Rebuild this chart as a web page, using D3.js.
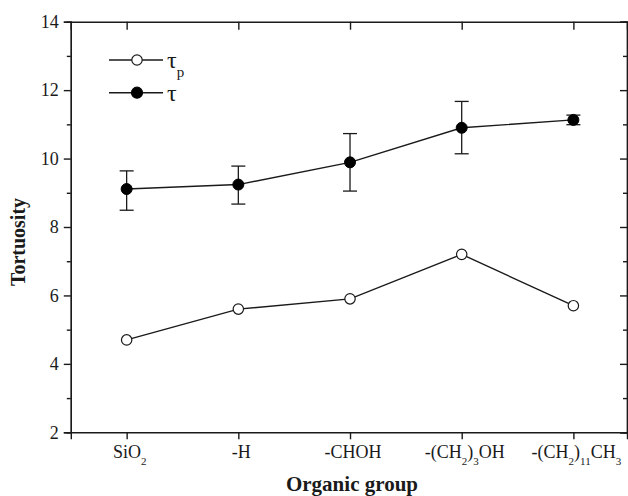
<!DOCTYPE html>
<html>
<head>
<meta charset="utf-8">
<script src="https://cdn.jsdelivr.net/npm/d3@7/dist/d3.min.js"></script>
<style>
  html, body { margin: 0; padding: 0; background: #fff; }
  svg { display: block; }
  svg text { font-family: "Liberation Serif", "Times New Roman", serif !important; fill: #1a1a1a; }
</style>
</head>
<body>
<svg id="chart" width="628" height="496"></svg>
<script>
// ---- data ----
const categories = ["SiO_{2}", "-H", "-CHOH", "-(CH_{2})_{3}OH", "-(CH_{2})_{11}CH_{3}"];
const tauP = [4.7, 5.6, 5.9, 7.2, 5.7];
const tau = [9.11, 9.24, 9.89, 10.9, 11.13];
const tauErrLow = [8.49, 8.67, 9.05, 10.14, 10.99];
const tauErrHigh = [9.64, 9.78, 10.73, 11.67, 11.27];
const yTicks = [2, 4, 6, 8, 10, 12, 14];
const yMinorTicks = [3, 5, 7, 9, 11, 13];
const legendSeries = [
  {name: "τ", sub: "p", filled: false},
  {name: "τ", sub: "", filled: true}
];

const svg = d3.select("#chart");
const ink = "#1a1a1a";
const serif = "'Liberation Serif', 'Times New Roman', serif";

const x = d3.scaleLinear().domain([0.5, 5.48]).range([70.8, 627]);
const y = d3.scaleLinear().domain([2, 14]).range([432.3, 21.7]);
const idx = categories.map((_, i) => i + 1);

// parse "_{..}" subscripts into segments
function segs(s) {
  const out = [];
  const re = /_\{([^}]*)\}/g;
  let last = 0, m;
  while ((m = re.exec(s)) !== null) {
    if (m.index > last) out.push({t: s.slice(last, m.index), sub: false});
    out.push({t: m[1], sub: true});
    last = re.lastIndex;
  }
  if (last < s.length) out.push({t: s.slice(last), sub: false});
  return out;
}

// ---- axes ----
const axisStroke = 1.4;
const gLeft = svg.append("g").attr("transform", `translate(${x.range()[0]},0)`)
  .call(d3.axisLeft(y).tickValues(yTicks).tickSize(7).tickPadding(5).tickFormat(d3.format("d")));
const gLeftMinor = svg.append("g").attr("transform", `translate(${x.range()[0]},0)`)
  .call(d3.axisLeft(y).tickValues(yMinorTicks).tickSize(4).tickFormat(""));
const gRight = svg.append("g").attr("transform", `translate(${x.range()[1]},0)`)
  .call(d3.axisLeft(y).tickValues(yTicks).tickSize(7).tickFormat(""));
const gRightMinor = svg.append("g").attr("transform", `translate(${x.range()[1]},0)`)
  .call(d3.axisLeft(y).tickValues(yMinorTicks).tickSize(4).tickFormat(""));
const gBottom = svg.append("g").attr("transform", `translate(0,${y.range()[0]})`)
  .call(d3.axisBottom(x).tickValues(idx).tickSize(7).tickFormat(""));
const gTop = svg.append("g").attr("transform", `translate(0,${y.range()[1]})`)
  .call(d3.axisBottom(x).tickValues(idx).tickSize(8).tickFormat(""));

[gLeft, gLeftMinor, gRight, gRightMinor, gBottom, gTop].forEach(g => {
  g.attr("font-family", serif);
  g.selectAll("path.domain").attr("stroke", ink).attr("stroke-width", axisStroke);
  g.selectAll(".tick line").attr("stroke", ink).attr("stroke-width", axisStroke);
});
gLeft.selectAll(".tick text")
  .style("font-family", serif).style("font-size", "18px").attr("fill", ink);

// x tick labels with subscripts
const xl = svg.append("g");
categories.forEach((c, i) => {
  const t = xl.append("text")
    .attr("x", x(i + 1) + 3)
    .attr("y", 458)
    .attr("text-anchor", "middle")
    .style("font-family", serif)
    .style("font-size", "18px");
  let shifted = false;
  segs(c).forEach(s => {
    const ts = t.append("tspan").text(s.t);
    if (s.sub) ts.style("font-size", "11px");
    if (s.sub && !shifted) { ts.attr("dy", 7); shifted = true; }
    else if (!s.sub && shifted) { ts.attr("dy", -7); shifted = false; }
  });
});

// axis titles
svg.append("text")
  .attr("x", 352).attr("y", 491)
  .attr("text-anchor", "middle")
  .style("font-family", serif).style("font-size", "21px").style("font-weight", "bold")
  .text("Organic group");
svg.append("text")
  .attr("transform", "translate(25,242) rotate(-90)")
  .attr("text-anchor", "middle")
  .style("font-family", serif).style("font-size", "20px").style("font-weight", "bold")
  .text("Tortuosity");

// ---- series ----
const line = d3.line().x((d, i) => x(i + 1)).y(d => y(d));

// tau_p (open)
svg.append("path").datum(tauP)
  .attr("d", line).attr("fill", "none").attr("stroke", ink).attr("stroke-width", 1.4);
svg.selectAll("circle.tp").data(tauP).enter().append("circle")
  .attr("class", "tp")
  .attr("cx", (d, i) => x(i + 1)).attr("cy", d => y(d)).attr("r", 5.2)
  .attr("fill", "#fff").attr("stroke", ink).attr("stroke-width", 1.2);

// tau error bars
const eb = svg.append("g").attr("stroke", ink).attr("stroke-width", 1.3);
tau.forEach((v, i) => {
  const cx = x(i + 1);
  eb.append("line").attr("x1", cx).attr("x2", cx).attr("y1", y(tauErrLow[i])).attr("y2", y(tauErrHigh[i]));
  eb.append("line").attr("x1", cx - 7).attr("x2", cx + 7).attr("y1", y(tauErrLow[i])).attr("y2", y(tauErrLow[i]));
  eb.append("line").attr("x1", cx - 7).attr("x2", cx + 7).attr("y1", y(tauErrHigh[i])).attr("y2", y(tauErrHigh[i]));
});
svg.append("path").datum(tau)
  .attr("d", line).attr("fill", "none").attr("stroke", ink).attr("stroke-width", 1.4);
svg.selectAll("circle.t").data(tau).enter().append("circle")
  .attr("class", "t")
  .attr("cx", (d, i) => x(i + 1)).attr("cy", d => y(d)).attr("r", 5.5)
  .attr("fill", "#000").attr("stroke", "#000");

// ---- legend ----
const lg = svg.append("g");
const legY = [60, 92.7];
legendSeries.forEach((s, i) => {
  const yy = legY[i];
  lg.append("line").attr("x1", 109).attr("x2", 163).attr("y1", yy).attr("y2", yy)
    .attr("stroke", ink).attr("stroke-width", 1.4);
  lg.append("circle").attr("cx", 137).attr("cy", yy).attr("r", s.filled ? 5.5 : 5.2)
    .attr("fill", s.filled ? "#000" : "#fff").attr("stroke", s.filled ? "#000" : ink).attr("stroke-width", 1.2);
  const t = lg.append("text").attr("x", 167).attr("y", yy + 8)
    .style("font-family", serif).style("font-size", "24px");
  t.append("tspan").text(s.name);
  if (s.sub) t.append("tspan").attr("dy", 9).style("font-size", "15px").text(s.sub);
});
</script>
</body>
</html>
